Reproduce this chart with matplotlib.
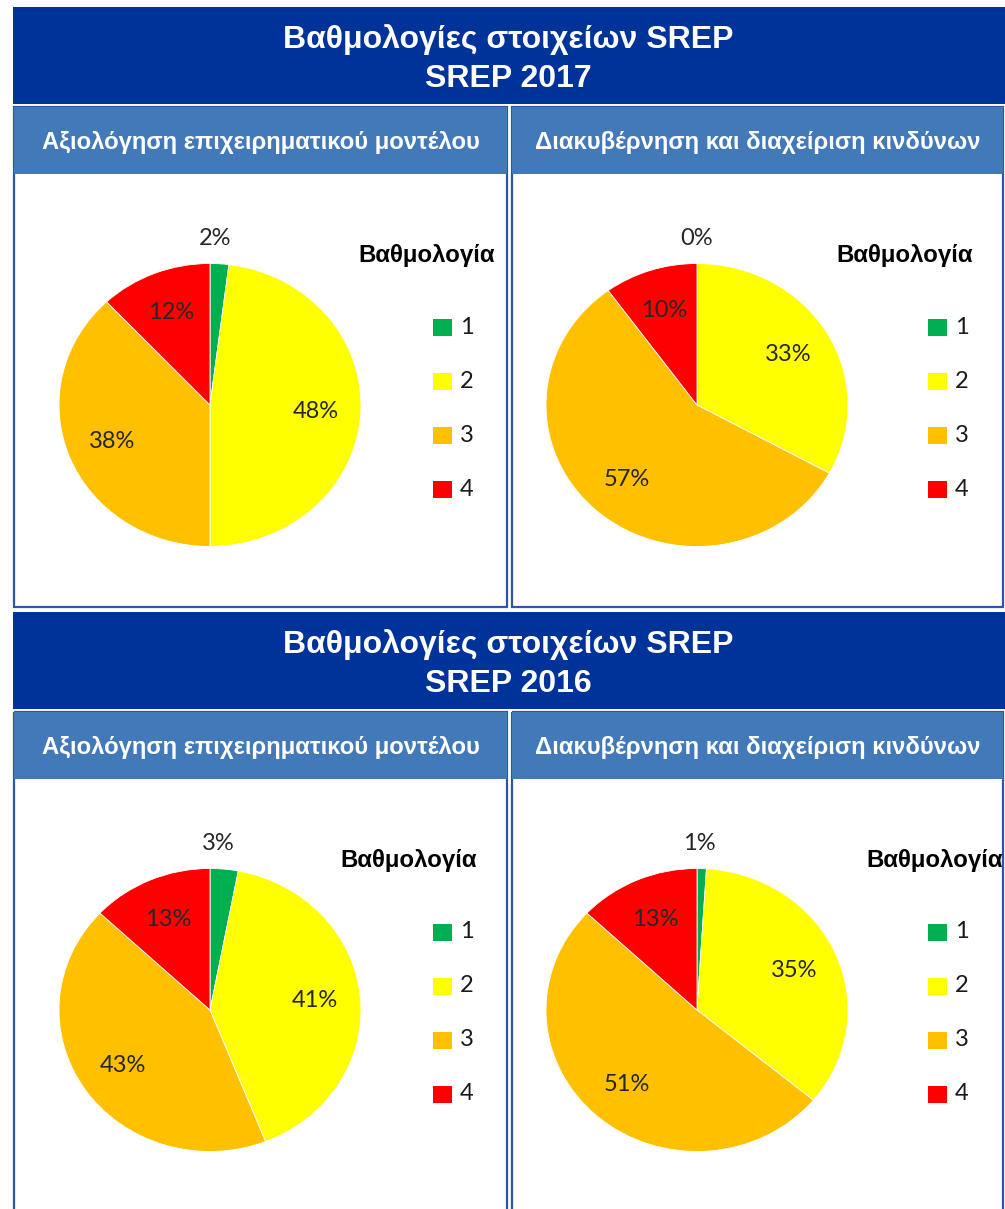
import matplotlib.pyplot as plt
import numpy as np
from matplotlib.patches import Rectangle

# --- DATA ---
ratings = ['1', '2', '3', '4']
rating_colors = ['#00B050', '#FFFF00', '#FFC000', '#FF0000']

block_title = 'Βαθμολογίες στοιχείων SREP'
years = ['SREP 2017', 'SREP 2016']
panel_titles = ['Αξιολόγηση επιχειρηματικού μοντέλου',
                'Διακυβέρνηση και διαχείριση κινδύνων']
legend_title = 'Βαθμολογία'

# share of banks per score (%), order: rating 1..4
bm_2017 = [2, 48, 38, 12]
gov_2017 = [0, 33, 57, 10]
bm_2016 = [3, 41, 43, 13]
gov_2016 = [1, 35, 51, 13]

# --- LAYOUT (pixels) ---
W, H = 1005, 1209
DARK = '#003399'
MID = '#4279B9'
BORDER = '#2F55A8'
HEAD_FONT = 'Liberation Sans'
LABEL_FONT = 'Lato'

fig = plt.figure(figsize=(W / 100, H / 100), dpi=100)
bg = fig.add_axes([0, 0, 1, 1])
bg.set_xlim(0, W)
bg.set_ylim(H, 0)
bg.axis('off')

cols = [(13, 508), (511, 1004)]
pie_cx = [210, 697]
legend_sq_x = [433, 928]
block_tops = [7, 612]
legend_title_right = [[495, 973], [477, 1003]]
blocks = [[bm_2017, gov_2017], [bm_2016, gov_2016]]


def pie_panel(values, cx, cy):
    rx, ry = 151, 141.5
    ax = fig.add_axes([(cx - rx) / W, 1 - (cy + ry) / H, 2 * rx / W, 2 * ry / H])
    ax.pie(values, colors=rating_colors, startangle=90, counterclock=False,
           wedgeprops=dict(linewidth=0.6, edgecolor='white'))
    ax.set_aspect('auto')
    ax.set_xlim(-1, 1)
    ax.set_ylim(-1, 1)
    total = float(sum(values))
    before = np.cumsum([0] + values[:-1])
    for v, b in zip(values, before):
        ang = np.deg2rad(90 - (b + v / 2) / total * 360)
        r = 0.7 if v >= 5 else 1.18
        x = r * np.cos(ang) if v >= 5 else 0.5 * r * np.cos(ang)
        ax.text(x, r * np.sin(ang), f'{v}%', ha='center', va='center',
                fontsize=17, family=LABEL_FONT, color='#262626', clip_on=False)


for bi, top in enumerate(block_tops):
    # dark header band
    bg.add_patch(Rectangle((13, top), W - 13, 97, color=DARK, lw=0))
    bg.text(508, top + 41, block_title, color='white', fontsize=23, fontweight='bold',
            family=HEAD_FONT, ha='center', va='baseline')
    bg.text(508, top + 80, years[bi], color='white', fontsize=23, fontweight='bold',
            family=HEAD_FONT, ha='center', va='baseline')
    for ci, (x0, x1) in enumerate(cols):
        # panel frame
        bg.add_patch(Rectangle((x0 + 1, top + 100), x1 - x0 - 2, 500, fill=False,
                               edgecolor=BORDER, lw=1.6))
        bg.add_patch(Rectangle((x0 + 1, top + 100), x1 - x0 - 2, 67, color=MID, lw=0))
        bg.text((x0 + x1) / 2, top + 142, panel_titles[ci], color='white', fontsize=17.2,
                fontweight='bold', family=HEAD_FONT, ha='center', va='baseline')

        pie_panel(blocks[bi][ci], pie_cx[ci], top + 398)

        # legend
        bg.text(legend_title_right[bi][ci], top + 255, legend_title, fontsize=17.3,
                fontweight='bold', family=HEAD_FONT, ha='right', va='baseline', color='black')
        for k, (lab, col) in enumerate(zip(ratings, rating_colors)):
            y = top + 320 + k * 54
            bg.add_patch(Rectangle((legend_sq_x[ci], y - 8.5), 19, 17, color=col, lw=0))
            bg.text(legend_sq_x[ci] + 27, y, lab, fontsize=17, family=LABEL_FONT,
                    ha='left', va='center', color='#1a1a1a')

plt.savefig('out.png', dpi=100)
